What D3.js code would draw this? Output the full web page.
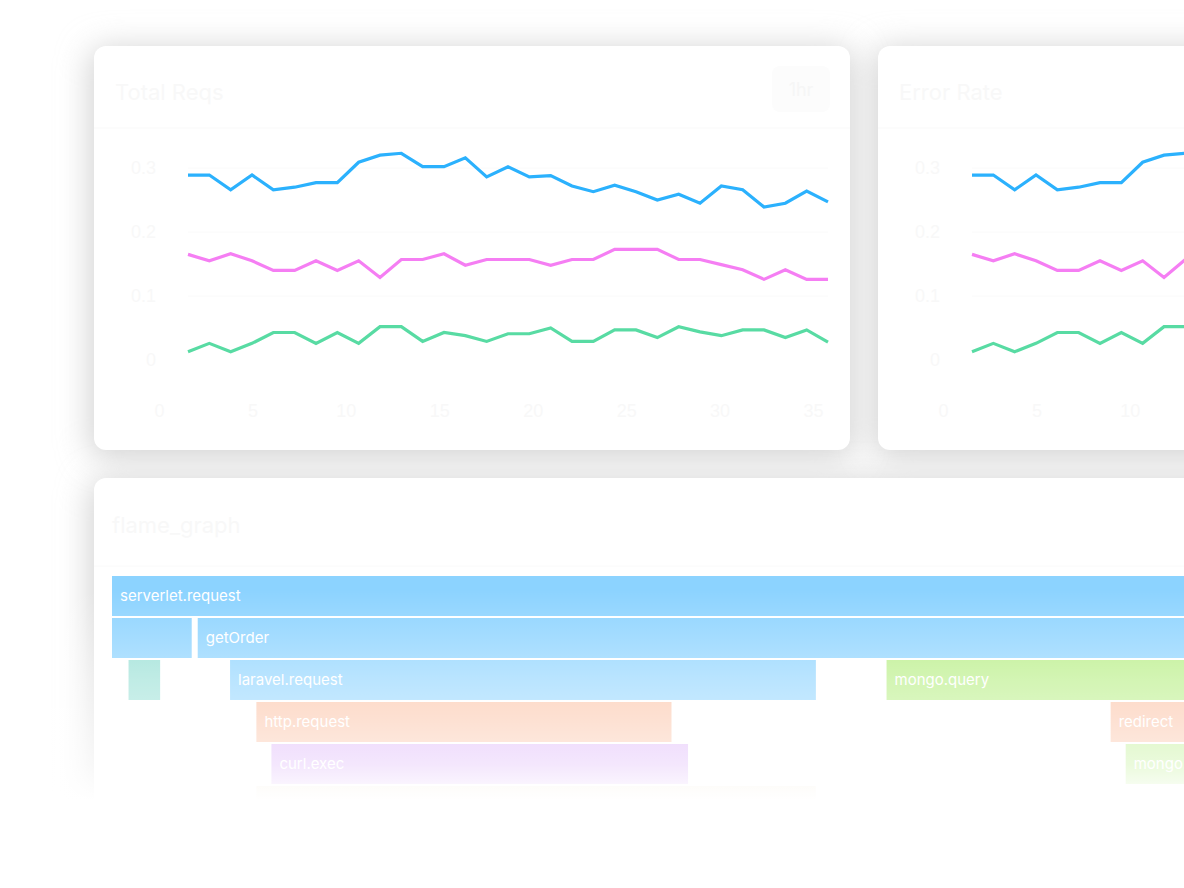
<!DOCTYPE html>
<html>
<head>
<meta charset="utf-8">
<script src="https://cdn.jsdelivr.net/npm/d3@7"></script>
<style>
  html, body { margin: 0; padding: 0; background: #fff; }
  svg { display: block; font-family: Inter, "Noto Sans", sans-serif; }
</style>
</head>
<body>
<div id="chart"></div>
<script>
// data
const xTicks = [0, 5, 10, 15, 20, 25, 30, 35];
const yTicks = [0, 0.1, 0.2, 0.3];
const gridTicks = [0.1, 0.2, 0.3];

const blueSeries = [0.289, 0.289, 0.266, 0.289, 0.266, 0.270, 0.277, 0.277, 0.309, 0.320, 0.323,
  0.302, 0.302, 0.316, 0.286, 0.302, 0.286, 0.288, 0.272, 0.263, 0.273, 0.263, 0.250, 0.259,
  0.245, 0.272, 0.266, 0.239, 0.245, 0.264, 0.247];
const pinkSeries = [0.165, 0.155, 0.166, 0.155, 0.140, 0.140, 0.155, 0.140, 0.155, 0.129, 0.157,
  0.157, 0.166, 0.148, 0.157, 0.157, 0.157, 0.148, 0.157, 0.157, 0.173, 0.173, 0.173, 0.157,
  0.157, 0.149, 0.141, 0.126, 0.141, 0.126, 0.126];
const greenSeries = [0.013, 0.026, 0.013, 0.026, 0.043, 0.043, 0.026, 0.043, 0.026, 0.052, 0.052,
  0.029, 0.043, 0.038, 0.029, 0.041, 0.041, 0.050, 0.029, 0.029, 0.047, 0.047, 0.035, 0.052,
  0.044, 0.038, 0.047, 0.047, 0.035, 0.047, 0.028];

const cardTitles = ["Total Reqs", "Error Rate"];

// flame graph spans
const spanNames = ["serverlet.request", "", "getOrder", "", "laravel.request", "mongo.query",
  "http.request", "redirect", "curl.exec", "mongo.query", "sql.query"];
const spanKinds = ["web", "web", "web", "cache", "web", "mongo", "http", "http", "curl", "mongo", "sql"];
const spanStart = [0, 0, 5.7, 1.1, 7.85, 51.5, 9.6, 66.4, 10.6, 67.4, 9.6];
const spanEnd = [100, 5.3, 100, 3.2, 46.8, 100, 37.2, 95, 38.3, 95, 46.8];
const spanDepth = [0, 1, 1, 2, 2, 2, 3, 3, 4, 4, 5];

const width = 1184;
const height = 888;

const kindColor = {
  web: "#8cd3ff",
  cache: "#96dfd4",
  mongo: "#b6ee82",
  http: "#fbbd9e",
  curl: "#d7a8f8",
  sql: "#f0e6d0"
};
const seriesColor = ["#2bb1fd", "#f57ef3", "#58dba3"];
const faint = "#f8f8f8";

let svg = d3.select("#chart")
  .append("svg")
  .attr("width", width)
  .attr("height", height);

const defs = svg.append("defs");
defs.append("filter")
  .attr("id", "blur")
  .attr("x", "-20%").attr("y", "-30%")
  .attr("width", "140%").attr("height", "160%")
  .append("feGaussianBlur")
  .attr("stdDeviation", 16);

// white fade at the bottom
const fade = defs.append("linearGradient")
  .attr("id", "fade")
  .attr("gradientUnits", "userSpaceOnUse")
  .attr("x1", 0).attr("x2", 0)
  .attr("y1", 590).attr("y2", 800);
[[0, 0], [0.43, 0.4], [0.63, 0.55], [0.83, 0.72], [1, 1]].forEach(s => {
  fade.append("stop")
    .attr("offset", s[0])
    .attr("stop-color", "#fff")
    .attr("stop-opacity", s[1]);
});

// cards: [x, y, w, h]
const cards = [[94, 46, 756, 404], [878, 46, 756, 404], [94, 478, 1540, 420]];

// shadows behind the cards
svg.append("g").selectAll("rect")
  .data(cards)
  .join("rect")
  .attr("x", d => d[0] - 4)
  .attr("y", d => d[1] + 2)
  .attr("width", d => d[2] + 8)
  .attr("height", d => d[3] + 6)
  .attr("rx", 16)
  .attr("fill", "#d2d2d2")
  .attr("filter", "url(#blur)");

svg.append("g").selectAll("rect")
  .data(cards)
  .join("rect")
  .attr("x", d => d[0])
  .attr("y", d => d[1])
  .attr("width", d => d[2])
  .attr("height", d => d[3])
  .attr("rx", 12)
  .attr("fill", "#fff");

// scales for the line cards (card-local coords)
const x = d3.scaleLinear().domain([0, blueSeries.length - 1]).range([94, 734]);
const xAxisScale = d3.scaleLinear().domain([0, 35]).range([65, 719]);
const y = d3.scaleLinear().domain([0, 0.3]).range([314, 122]);

/**
 * draws one line chart card
 */
function drawLineCard(g, title) {
  g.append("text")
    .attr("x", 21).attr("y", 54)
    .attr("font-size", 22)
    .attr("fill", faint)
    .text(title);

  g.append("rect")
    .attr("x", 678).attr("y", 20)
    .attr("width", 58).attr("height", 46)
    .attr("rx", 8)
    .attr("fill", "#fcfcfc");
  g.append("text")
    .attr("x", 707).attr("y", 50)
    .attr("text-anchor", "middle")
    .attr("font-size", 18)
    .attr("fill", "#f6f6f6")
    .text("1hr");

  g.append("line")
    .attr("x1", 0).attr("x2", 756)
    .attr("y1", 82).attr("y2", 82)
    .attr("stroke", "#f9f9f9");

  g.append("g").selectAll("line")
    .data(gridTicks)
    .join("line")
    .attr("x1", 94).attr("x2", 734)
    .attr("y1", d => y(d)).attr("y2", d => y(d))
    .attr("stroke", "#fafafa");

  // y axis labels
  const yAxis = g.append("g")
    .attr("transform", "translate(62,0)")
    .call(d3.axisLeft(y).tickValues(yTicks).tickSize(0).tickPadding(0).tickFormat(d3.format("")));
  yAxis.select(".domain").remove();
  yAxis.selectAll("text").attr("font-size", 18).attr("fill", faint).attr("font-family", null);

  // x axis labels
  const xAxis = g.append("g")
    .attr("transform", "translate(0,358)")
    .call(d3.axisBottom(xAxisScale).tickValues(xTicks).tickSize(0).tickPadding(0));
  xAxis.select(".domain").remove();
  xAxis.selectAll("text").attr("font-size", 18).attr("fill", faint).attr("font-family", null);

  const line = d3.line()
    .x((d, i) => x(i))
    .y(d => y(d));

  [blueSeries, pinkSeries, greenSeries].forEach((s, i) => {
    g.append("path")
      .datum(s)
      .attr("fill", "none")
      .attr("stroke", seriesColor[i])
      .attr("stroke-width", 3.2)
      .attr("stroke-linejoin", "miter")
      .attr("d", line);
  });
}

drawLineCard(svg.append("g").attr("transform", "translate(94,46)"), cardTitles[0]);
drawLineCard(svg.append("g").attr("transform", "translate(878,46)"), cardTitles[1]);

// flame graph card
const flame = svg.append("g");
flame.append("text")
  .attr("x", 112).attr("y", 533)
  .attr("font-size", 22)
  .attr("fill", faint)
  .text("flame_graph");
flame.append("line")
  .attr("x1", 94).attr("x2", 1634)
  .attr("y1", 566).attr("y2", 566)
  .attr("stroke", "#fafafa");

const fx = d3.scaleLinear().domain([0, 100]).range([112, 1616]);
const rowY = d3.scaleLinear().domain([0, 1]).range([576, 618]);
const barH = 40;

const spans = spanNames.map((n, i) => ({
  name: n, kind: spanKinds[i], start: spanStart[i], end: spanEnd[i], depth: spanDepth[i]
}));

const bars = flame.append("g").selectAll("g")
  .data(spans)
  .join("g")
  .attr("transform", d => `translate(${fx(d.start)},${rowY(d.depth)})`);

bars.append("rect")
  .attr("width", d => fx(d.end) - fx(d.start))
  .attr("height", barH)
  .attr("fill", d => kindColor[d.kind]);

bars.append("text")
  .attr("x", 8)
  .attr("y", 25)
  .attr("font-size", 15)
  .attr("fill", "#fff")
  .text(d => d.name);

// fade everything out towards the bottom
svg.append("rect")
  .attr("x", 0).attr("y", 580)
  .attr("width", width).attr("height", height - 580)
  .attr("fill", "url(#fade)");
</script>
</body>
</html>
